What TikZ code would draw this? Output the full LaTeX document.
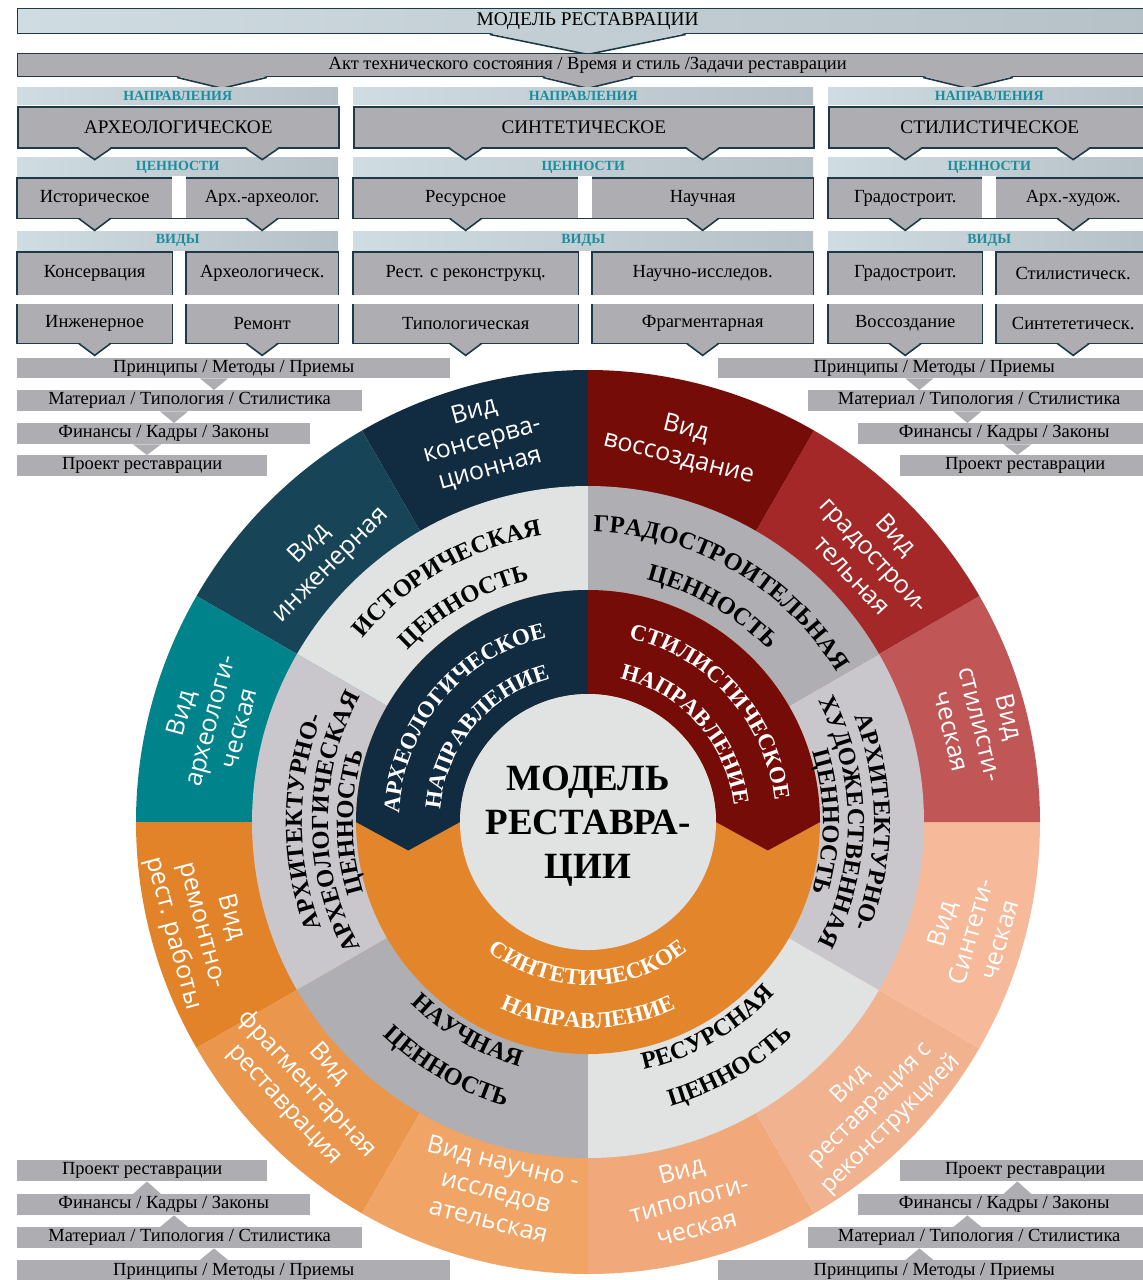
\documentclass[tikz,border=0pt]{standalone}
\usepackage{fontspec}
\setmainfont{Liberation Serif}
\newfontfamily\ringfont{Open Sans}
\usepackage{tikz}
\usetikzlibrary{calc,decorations.text}

\definecolor{boxgrey}{HTML}{AEADB2}
\definecolor{boxline}{HTML}{1E3947}
\definecolor{bandA}{HTML}{CFDCE1}
\definecolor{bandB}{HTML}{B5C0C7}
\definecolor{headteal}{HTML}{1B8E9E}
\definecolor{discgrey}{HTML}{E1E2E2}
\definecolor{valLight}{HTML}{E1E2E2}
\definecolor{valLav}{HTML}{C9C7CC}
\definecolor{valMid}{HTML}{AFAEB3}
\definecolor{navyA}{HTML}{112B41}
\definecolor{tealDark}{HTML}{184457}
\definecolor{tealA}{HTML}{00838A}
\definecolor{orangeA}{HTML}{E2832A}
\definecolor{orangeB}{HTML}{EA964C}
\definecolor{orangeC}{HTML}{F0A466}
\definecolor{orangeD}{HTML}{F1A97B}
\definecolor{orangeE}{HTML}{F1B290}
\definecolor{orangeF}{HTML}{F6B99A}
\definecolor{redA}{HTML}{C05656}
\definecolor{redB}{HTML}{A42828}
\definecolor{redC}{HTML}{760C08}
\definecolor{dirorange}{HTML}{E3852A}

% V notch under an outlined box: centre on the lower edge, half width, depth, fill
\newcommand\boxnotch[4]{%
  \fill[#4, shift={(#1)}] (-#2,-1.4) -- (0,#3) -- (#2,-1.4) -- cycle;
  \draw[boxline, line width=1.6pt, shift={(#1)}] (-#2,0) -- (0,#3) -- (#2,0);}
% small grey tip between two stacked bars
\newcommand\stacktip[3]{%
  \fill[boxgrey] ([xshift=#3pt-14pt]#1) -- ([xshift=#3pt+14pt]#1) -- ([xshift=#3pt]#2) -- cycle;}
% text on a ring: radius, from, to, font, colour, text
\newcommand\arctext[6]{%
  \path[decorate, decoration={text along path, text align=center, text color=#5, text={|#4|#6}}]
    (#2:#1) arc[start angle=#2, end angle=#3, radius=#1];}
\newcommand\valfont{\fontsize{24.5}{24.5}\selectfont\bfseries}
\newcommand\dirfont{\fontsize{23}{23}\selectfont\bfseries}

\begin{document}
\begin{tikzpicture}[
  x=1pt, y=-1pt,
  sz/.style 2 args={minimum width=#1pt, minimum height=#2pt},
  band/.style={left color=bandA, right color=bandB, anchor=north west, inner sep=0pt, text=headteal, font=\fontsize{14}{14}\selectfont\bfseries},
  topbar/.style={left color=bandA, right color=bandB, draw=boxline, line width=1.4pt, anchor=north west, inner sep=0pt, font=\fontsize{19.4}{19.4}\selectfont},
  actbar/.style={fill=boxgrey, draw=boxline, line width=1.4pt, anchor=north west, inner sep=0pt, font=\fontsize{18.5}{18.5}\selectfont},
  dirbox/.style={fill=boxgrey, draw=boxline, line width=1.6pt, anchor=north west, inner sep=0pt, font=\fontsize{19.2}{19.2}\selectfont},
  cell/.style={fill=boxgrey, anchor=north west, inner sep=0pt, font=\fontsize{18.5}{18.5}\selectfont},
  pairline/.style={draw=boxline, line width=1.6pt},
  stackbar/.style={fill=boxgrey, anchor=north west, inner sep=0pt, font=\fontsize{18.5}{18.5}\selectfont},
  vid/.style={text=white, align=center, font=\ringfont\fontsize{25}{30}\selectfont}
]
\path[use as bounding box] (0,0) rectangle (1143,1280);
\clip (0,0) rectangle (1143,1280);
\fill[white] (0,0) rectangle (1143,1280);

% header bars
\node[topbar, sz={1140}{25}] (model) at (17,8) {МОДЕЛЬ РЕСТАВРАЦИИ};
\boxnotch{model.south}{98}{20}{bandA!50!bandB}
\node[actbar, sz={1140}{23}] (act) at (17,53) {Акт технического состояния / Время и стиль /Задачи реставрации};
\boxnotch{$(act.south west)+(205,0)$}{45}{11}{boxgrey}
\boxnotch{act.south}{45}{11}{boxgrey}
\boxnotch{$(act.south west)+(951,0)$}{45}{11}{boxgrey}

% directions
\node[band, sz={321}{17}] (napL) at (17,87) {НАПРАВЛЕНИЯ};
\node[band, sz={460}{17}] (napM) at (353,87) {НАПРАВЛЕНИЯ};
\node[band, sz={322}{17}] (napR) at (828,87) {НАПРАВЛЕНИЯ};
\node[dirbox, sz={321}{41}] (dirL) at (17,106) {АРХЕОЛОГИЧЕСКОЕ};
\node[dirbox, sz={460}{41}] (dirM) at (353,106) {СИНТЕТИЧЕСКОЕ};
\node[dirbox, sz={322}{41}] (dirR) at (828,106) {СТИЛИСТИЧЕСКОЕ};

% values
\node[band, sz={321}{20}] (cenL) at (17,157) {ЦЕННОСТИ};
\node[band, sz={460}{20}] (cenM) at (353,157) {ЦЕННОСТИ};
\node[band, sz={322}{20}] (cenR) at (828,157) {ЦЕННОСТИ};
\node[cell, sz={155}{40}] (hist) at (17,178) {Историческое};
\node[cell, sz={152}{40}] (arkh) at (186,178) {Арх.-археолог.};
\node[cell, sz={225}{40}] (res) at (353,178) {Ресурсное};
\node[cell, sz={221}{40}] (nauch) at (592,178) {Научная};
\node[cell, sz={154}{40}] (grad) at (828,178) {Градостроит.};
\node[cell, sz={154}{40}] (arhud) at (996,178) {Арх.-худож.};
\foreach \a/\b in {hist/arkh, res/nauch, grad/arhud} {
  \draw[pairline] (\a.north west) rectangle (\b.south east);
  \fill[white] ([yshift=2pt]\a.north east) rectangle ([yshift=1.2pt]\b.south west);
}

% kinds
\node[band, sz={321}{19}] (vidL) at (17,231) {ВИДЫ};
\node[band, sz={460}{19}] (vidM) at (353,231) {ВИДЫ};
\node[band, sz={322}{19}] (vidR) at (828,231) {ВИДЫ};
\node[cell, sz={155}{43}] (kons) at (17,252) {Консервация};
\node[cell, sz={155}{39}] (inzh) at (17,304) {Инженерное};
\node[cell, sz={152}{43}] (arkhv) at (186,252) {Археологическ.};
\node[cell, sz={152}{39}] (remont) at (186,304) {Ремонт};
\node[cell, sz={225}{43}] (rekon) at (353,252) {Рест. с реконструкц.};
\node[cell, sz={225}{39}] (tipol) at (353,304) {Типологическая};
\node[cell, sz={221}{43}] (issl) at (592,252) {Научно-исследов.};
\node[cell, sz={221}{39}] (fragm) at (592,304) {Фрагментарная};
\node[cell, sz={154}{43}] (gradv) at (828,252) {Градостроит.};
\node[cell, sz={154}{39}] (vossoz) at (828,304) {Воссоздание};
\node[cell, sz={154}{43}] (stil) at (996,252) {Стилистическ.};
\node[cell, sz={154}{39}] (sintet) at (996,304) {Синтететическ.};
\foreach \a/\b in {kons/inzh, arkhv/remont, rekon/tipol, issl/fragm, gradv/vossoz, stil/sintet} {
  \draw[pairline] (\a.north west) rectangle (\b.south east);
  \fill[white] ([xshift=-2pt]\a.south west) rectangle ([xshift=2pt]\b.north east);
}

% notches
\foreach \c/\d in {hist/dirL, arkh/dirL, res/dirM, nauch/dirM, grad/dirR, arhud/dirR}
  \boxnotch{\c.north |- \d.south}{16}{11}{boxgrey};
\foreach \c in {hist, arkh, res, nauch, grad, arhud, inzh, remont, tipol, fragm, vossoz, sintet}
  \boxnotch{\c.south}{16}{12}{boxgrey};

% stacks, top
\node[stackbar, sz={433}{20}] (prTL) at (17,358) {Принципы / Методы / Приемы};
\node[stackbar, sz={345}{21}] (matTL) at (17,390) {Материал / Типология / Стилистика};
\node[stackbar, sz={293}{21}] (finTL) at (17,423) {Финансы / Кадры / Законы};
\node[stackbar, sz={250}{21}] (prjTL) at (17,455) {Проект реставрации};
\stacktip{prTL.south west}{matTL.north west}{197}
\stacktip{matTL.south west}{finTL.north west}{157}
\stacktip{finTL.south west}{prjTL.north west}{130}
\node[stackbar, sz={432}{20}] (prTR) at (718,358) {Принципы / Методы / Приемы};
\node[stackbar, sz={342}{21}] (matTR) at (808,390) {Материал / Типология / Стилистика};
\node[stackbar, sz={292}{21}] (finTR) at (858,423) {Финансы / Кадры / Законы};
\node[stackbar, sz={250}{21}] (prjTR) at (900,455) {Проект реставрации};
\stacktip{prTR.south east}{matTR.north east}{-231}
\stacktip{matTR.south east}{finTR.north east}{-183}
\stacktip{finTR.south east}{prjTR.north east}{-133}

% stacks, bottom
\node[stackbar, sz={250}{21}] (prjBL) at (17,1160) {Проект реставрации};
\node[stackbar, sz={293}{21}] (finBL) at (17,1194) {Финансы / Кадры / Законы};
\node[stackbar, sz={345}{21}] (matBL) at (17,1227) {Материал / Типология / Стилистика};
\node[stackbar, sz={433}{22}] (prBL) at (17,1260) {Принципы / Методы / Приемы};
\stacktip{finBL.north west}{prjBL.south west}{130}
\stacktip{matBL.north west}{finBL.south west}{157}
\stacktip{prBL.north west}{matBL.south west}{197}
\node[stackbar, sz={250}{21}] (prjBR) at (900,1160) {Проект реставрации};
\node[stackbar, sz={292}{21}] (finBR) at (858,1194) {Финансы / Кадры / Законы};
\node[stackbar, sz={342}{21}] (matBR) at (808,1227) {Материал / Типология / Стилистика};
\node[stackbar, sz={432}{22}] (prBR) at (718,1260) {Принципы / Методы / Приемы};
\stacktip{finBR.north east}{prjBR.south east}{-133}
\stacktip{matBR.north east}{finBR.south east}{-183}
\stacktip{prBR.north east}{matBR.south east}{-231}

% the wheel
\begin{scope}[shift={(588,822)}, y=1pt]
  \foreach \a/\col in {90/navyA, 120/tealDark, 150/tealA, 180/orangeA, 210/orangeB, 240/orangeC,
                       270/orangeD, 300/orangeE, 330/orangeF, 0/redA, 30/redB, 60/redC}
    \fill[\col] (0,0) -- (\a:452) arc[start angle=\a, delta angle=30, radius=452] -- cycle;
  \foreach \a/\col in {90/valLight, 150/valLav, 210/valMid, 270/valLight, 330/valLav, 30/valMid}
    \fill[\col] (0,0) -- (\a:336) arc[start angle=\a, delta angle=60, radius=336] -- cycle;
  \fill[dirorange] (0,0) circle[radius=232];
  \fill[navyA] (180:232) arc[start angle=180, end angle=90, radius=232] -- (90:128)
    arc[start angle=90, end angle=180, radius=128] -- (189:182) -- cycle;
  \fill[redC] (0:232) arc[start angle=0, end angle=90, radius=232] -- (90:128)
    arc[start angle=90, end angle=0, radius=128] -- (-9:182) -- cycle;
  \fill[discgrey] (0,0) circle[radius=128];
  \node[align=center, inner sep=0pt, font=\fontsize{37}{44}\selectfont\bfseries] (core) at (0,-4) {МОДЕЛЬ\\РЕСТАВРА-\\ЦИИ};

  % directions
  \arctext{189}{190}{90}{\dirfont}{white}{АРХЕОЛОГИЧЕСКОЕ}
  \arctext{148}{190}{90}{\dirfont}{white}{НАПРАВЛЕНИЕ}
  \arctext{188}{92}{-8}{\dirfont}{white}{СТИЛИСТИЧЕСКОЕ}
  \arctext{147}{92}{-8}{\dirfont}{white}{НАПРАВЛЕНИЕ}
  \arctext{163}{200}{340}{\dirfont}{white}{СИНТЕТИЧЕСКОЕ}
  \arctext{206}{200}{340}{\dirfont}{white}{НАПРАВЛЕНИЕ}

  % values
  \arctext{290}{160}{80}{\valfont}{black}{ИСТОРИЧЕСКАЯ}
  \arctext{249}{160}{80}{\valfont}{black}{ЦЕННОСТЬ}
  \arctext{290}{100}{20}{\valfont}{black}{ГРАДОСТРОИТЕЛЬНАЯ}
  \arctext{249}{100}{20}{\valfont}{black}{ЦЕННОСТЬ}
  \arctext{286}{50}{-50}{\valfont}{black}{АРХИТЕКТУРНО-}
  \arctext{260}{50}{-50}{\valfont}{black}{ХУДОЖЕСТВЕННАЯ}
  \arctext{235}{50}{-50}{\valfont}{black}{ЦЕННОСТЬ}
  \arctext{286}{230}{130}{\valfont}{black}{АРХИТЕКТУРНО-}
  \arctext{260}{230}{130}{\valfont}{black}{АРХЕОЛОГИЧЕСКАЯ}
  \arctext{235}{230}{130}{\valfont}{black}{ЦЕННОСТЬ}
  \arctext{254}{190}{290}{\valfont}{black}{НАУЧНАЯ}
  \arctext{296}{190}{290}{\valfont}{black}{ЦЕННОСТЬ}
  \arctext{254}{250}{350}{\valfont}{black}{РЕСУРСНАЯ}
  \arctext{296}{250}{350}{\valfont}{black}{ЦЕННОСТЬ}

  % kinds
  \node[vid, rotate=15.5] (vKons) at (105.5:396) {Вид\\консерва-\\ционная};
  \node[vid, rotate=45] (vInzh) at (135:378) {Вид\\инженерная};
  \node[vid, rotate=75] (vArkh) at (165:392) {Вид\\археологи-\\ческая};
  \node[vid, rotate=-75] (vRem) at (195:400) {Вид\\ремонтно-\\рест. работы};
  \node[vid, rotate=-47] (vFrag) at (223:385) {Вид\\фрагментарная\\реставрация};
  \node[vid, rotate=-14] (vIssl) at (256:380) {Вид научно -\\исследов\\ательская};
  \node[vid, rotate=15] (vTip) at (285:390) {Вид\\типологи-\\ческая};
  \node[vid, rotate=45, font=\ringfont\fontsize{23.5}{28.5}\selectfont] (vRek) at (315:400) {Вид\\реставрация с\\реконструкцией};
  \node[vid, rotate=74] (vSin) at (344:398) {Вид\\Синтети-\\ческая};
  \node[vid, rotate=-76] (vStil) at (14:405) {Вид\\стилисти-\\ческая};
  \node[vid, rotate=-47] (vGrad) at (43:392) {Вид\\градострои-\\тельная};
  \node[vid, rotate=-14] (vVos) at (76:390) {Вид\\воссоздание};
\end{scope}
\end{tikzpicture}
\end{document}
